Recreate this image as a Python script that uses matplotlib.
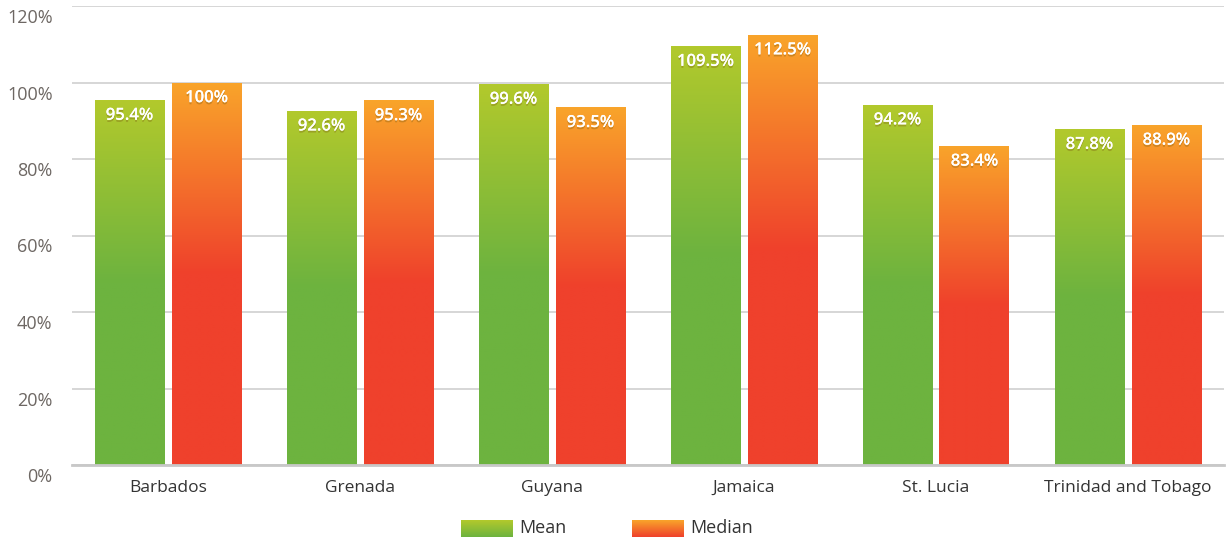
import numpy as np
import matplotlib
matplotlib.use("Agg")
import matplotlib.pyplot as plt
from matplotlib.colors import LinearSegmentedColormap
import matplotlib.patheffects as pe
import matplotlib.transforms as mtransforms

categories = ["Barbados", "Grenada", "Guyana", "Jamaica", "St. Lucia", "Trinidad and Tobago"]
mean_vals = [95.4, 92.6, 99.6, 109.5, 94.2, 87.8]
median_vals = [100, 95.3, 93.5, 112.5, 83.4, 88.9]
mean_labels = ["95.4%", "92.6%", "99.6%", "109.5%", "94.2%", "87.8%"]
median_labels = ["100%", "95.3%", "93.5%", "112.5%", "83.4%", "88.9%"]
yticks = [0, 20, 40, 60, 80, 100, 120]
ytick_labels = ["0%", "20%", "40%", "60%", "80%", "100%", "120%"]
series_names = ["Mean", "Median"]

green_cmap = LinearSegmentedColormap.from_list("g", ["#6db33f", "#b2c92c"])
orange_cmap = LinearSegmentedColormap.from_list("o", ["#ef412c", "#f9a42a"])

plt.rcParams['font.family'] = ['Open Sans', 'DejaVu Sans']

fig = plt.figure(figsize=(12.29, 5.40), dpi=100)
ax = fig.add_axes([72/1229, 75/540, 1152/1229, 459/540])

x = np.arange(len(categories))
w = 70/192
gap = 7/192
off = (w + gap) / 2

def grad_img():
    n = 200
    t = np.linspace(0, 1, n)
    v = np.clip((t - 0.5) / 0.5, 0, 1)
    return v.reshape(-1, 1)

img = grad_img()

for vals, labels, cmap, sign in [(mean_vals, mean_labels, green_cmap, -1),
                                 (median_vals, median_labels, orange_cmap, 1)]:
    bars = ax.bar(x + sign * off, vals, width=w, color=cmap(0.0), zorder=2)
    for b, lab in zip(bars, labels):
        bx, by = b.get_x(), b.get_y()
        bw, bh = b.get_width(), b.get_height()
        im = ax.imshow(img, cmap=cmap, vmin=0, vmax=1, origin='lower',
                       extent=[bx, bx + bw, 0, bh], aspect='auto', zorder=3,
                       interpolation='bilinear')
        im.set_clip_path(b)
        ax.text(bx + bw / 2, bh - 2.0, lab, ha='center', va='top', color='white',
                fontsize=12, fontweight='semibold', zorder=5,
                path_effects=[pe.withSimplePatchShadow(offset=(0, -1.5), shadow_rgbFace='#7a5a10', alpha=0.35),
                              pe.Normal()])

ax.set_xlim(-0.5, len(categories) - 0.5)
ax.set_ylim(0, 120)
ax.set_yticks(yticks)
ax.set_yticklabels(ytick_labels, color='#6d6763', fontsize=13)
ax.set_xticks(x)
ax.set_xticklabels(categories, color='#333333', fontsize=12.5)
ax.tick_params(axis='both', length=0)
ax.tick_params(axis='y', pad=14)
ax.tick_params(axis='x', pad=11)
shift = mtransforms.ScaledTranslation(0, -10/100, fig.dpi_scale_trans)
for lbl in ax.get_yticklabels():
    lbl.set_transform(lbl.get_transform() + shift)
ax.grid(axis='y', color='#d0d0d0', linewidth=1.2, zorder=0)
ax.set_axisbelow(True)
for s in ['top', 'right', 'left']:
    ax.spines[s].set_visible(False)
ax.spines['bottom'].set_color('#c8c8c8')
ax.spines['bottom'].set_linewidth(2)
ax.spines['bottom'].set_zorder(4)

# legend
leg_img = np.linspace(0, 1, 50).reshape(-1, 1)
for name, cmap, px, tx in [(series_names[0], green_cmap, 461, 519), (series_names[1], orange_cmap, 632, 690)]:
    lax = fig.add_axes([px/1229, (540-537)/540, 52/1229, 17/540])
    lax.imshow(leg_img, cmap=cmap, origin='lower', aspect='auto', extent=[0, 1, 0, 1])
    lax.axis('off')
    fig.text(tx/1229, (540-528)/540, name, ha='left', va='center', color='#333333', fontsize=13)

fig.savefig("out.png", dpi=100)
